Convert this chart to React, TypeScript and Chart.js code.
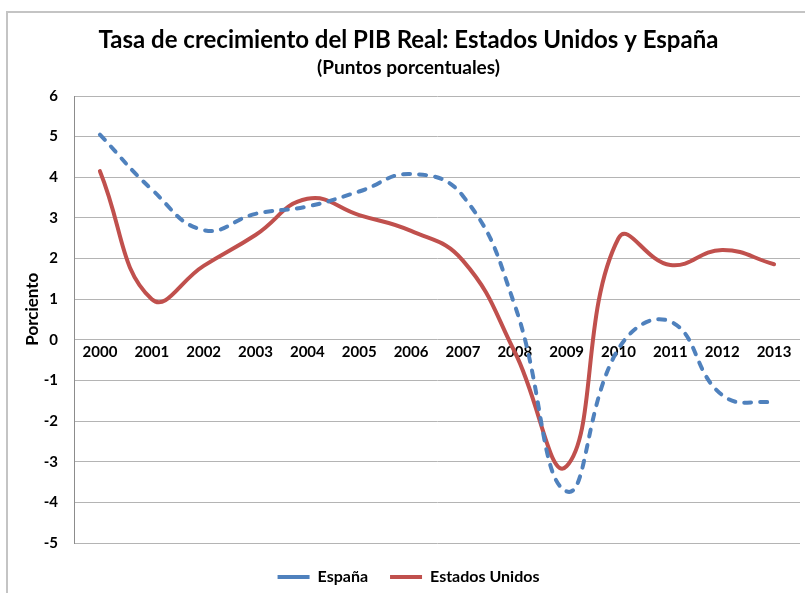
import { useEffect, useRef } from "react";
import { Chart, registerables } from "chart.js";

Chart.register(...registerables);

const years = ["2000", "2001", "2002", "2003", "2004", "2005", "2006", "2007", "2008", "2009", "2010", "2011", "2012", "2013"];
const espana = [5.05, 3.7, 2.7, 3.1, 3.28, 3.65, 4.08, 3.54, 0.85, -3.73, -0.22, 0.45, -1.36, -1.55];
const estadosUnidos = [4.15, 1.0, 1.82, 2.58, 3.47, 3.07, 2.68, 1.95, -0.3, -3.11, 2.5, 1.84, 2.21, 1.86];
const yMin = -5;
const yMax = 6;

const FONT = "Lato, 'Open Sans', sans-serif";

const borderPlugin = {
  id: "outerBorder",
  beforeDraw(chart: any) {
    const ctx = chart.ctx;
    ctx.save();
    ctx.fillStyle = "#ffffff";
    ctx.fillRect(0, 0, chart.width, chart.height);
    ctx.strokeStyle = "#c4c4c4";
    ctx.lineWidth = 2;
    ctx.strokeRect(7, 12, chart.width + 10, chart.height + 10);
    ctx.restore();
  },
};

export default function App() {
  const ref = useRef<HTMLCanvasElement | null>(null);

  useEffect(() => {
    if (!ref.current) return;
    const chart = new Chart(ref.current, {
      type: "line",
      data: {
        labels: years,
        datasets: [
          {
            label: "España",
            data: espana,
            borderColor: "#4F81BD",
            backgroundColor: "#4F81BD",
            borderWidth: 4,
            borderDash: [7, 9],
            borderCapStyle: "round",
            pointRadius: 0,
            tension: 0.45,
            fill: false,
          },
          {
            label: "Estados Unidos",
            data: estadosUnidos,
            borderColor: "#C0504D",
            backgroundColor: "#C0504D",
            borderWidth: 4,
            borderCapStyle: "round",
            pointRadius: 0,
            tension: 0.45,
            fill: false,
          },
        ],
      },
      options: {
        responsive: false,
        animation: false,
        layout: { padding: { left: 17, right: 5, top: 0, bottom: -2 } },
        plugins: {
          title: {
            display: true,
            text: "Tasa de crecimiento del PIB Real: Estados Unidos y España",
            color: "#000000",
            font: { family: FONT, size: 24, weight: "bold", lineHeight: 1.2 },
            padding: { top: 25.6, bottom: 0 },
          },
          subtitle: {
            display: true,
            text: "(Puntos porcentuales)",
            color: "#000000",
            font: { family: FONT, size: 19, weight: "bold", lineHeight: 1.2 },
            padding: { top: 2.2, bottom: 16.6 },
          },
          legend: {
            display: true,
            position: "bottom",
            title: {
              display: true,
              text: "",
              font: { family: FONT, size: 1, lineHeight: 1 },
              padding: { top: 1.5, bottom: 1.5 },
            },
            labels: {
              color: "#000000",
              font: { family: FONT, size: 16, weight: "bold" },
              usePointStyle: true,
              pointStyle: "line",
              pointStyleWidth: 32,
              padding: 22,
            },
          },
          tooltip: { enabled: false },
        },
        scales: {
          x: {
            type: "category",
            position: { y: 0 },
            offset: true,
            grid: { display: false, drawTicks: false },
            border: { display: false },
            ticks: {
              color: "#000000",
              font: { family: FONT, size: 15, weight: "bold" },
              padding: 3.5,
              autoSkip: false,
              maxRotation: 0,
            },
          },
          y: {
            min: yMin,
            max: yMax,
            afterFit: (s: any) => {
              s.width = 57;
            },
            ticks: {
              stepSize: 1,
              color: "#000000",
              font: { family: FONT, size: 15, weight: "bold" },
              padding: 16,
            },
            grid: { color: "#b4b4b4", lineWidth: 1, drawTicks: false },
            border: { display: true, color: "#8c8c8c", width: 1 },
            title: {
              display: true,
              text: "     Porciento",
              color: "#000000",
              font: { family: FONT, size: 17, weight: "bold", lineHeight: 1.2 },
              padding: { top: 5.8, bottom: 2 },
            },
          },
        },
      },
      plugins: [borderPlugin],
    });
    return () => chart.destroy();
  }, []);

  return (
    <div style={{ position: "absolute", left: 0, top: 0, width: 805, height: 593 }}>
      <canvas ref={ref} width={805} height={593} />
    </div>
  );
}
